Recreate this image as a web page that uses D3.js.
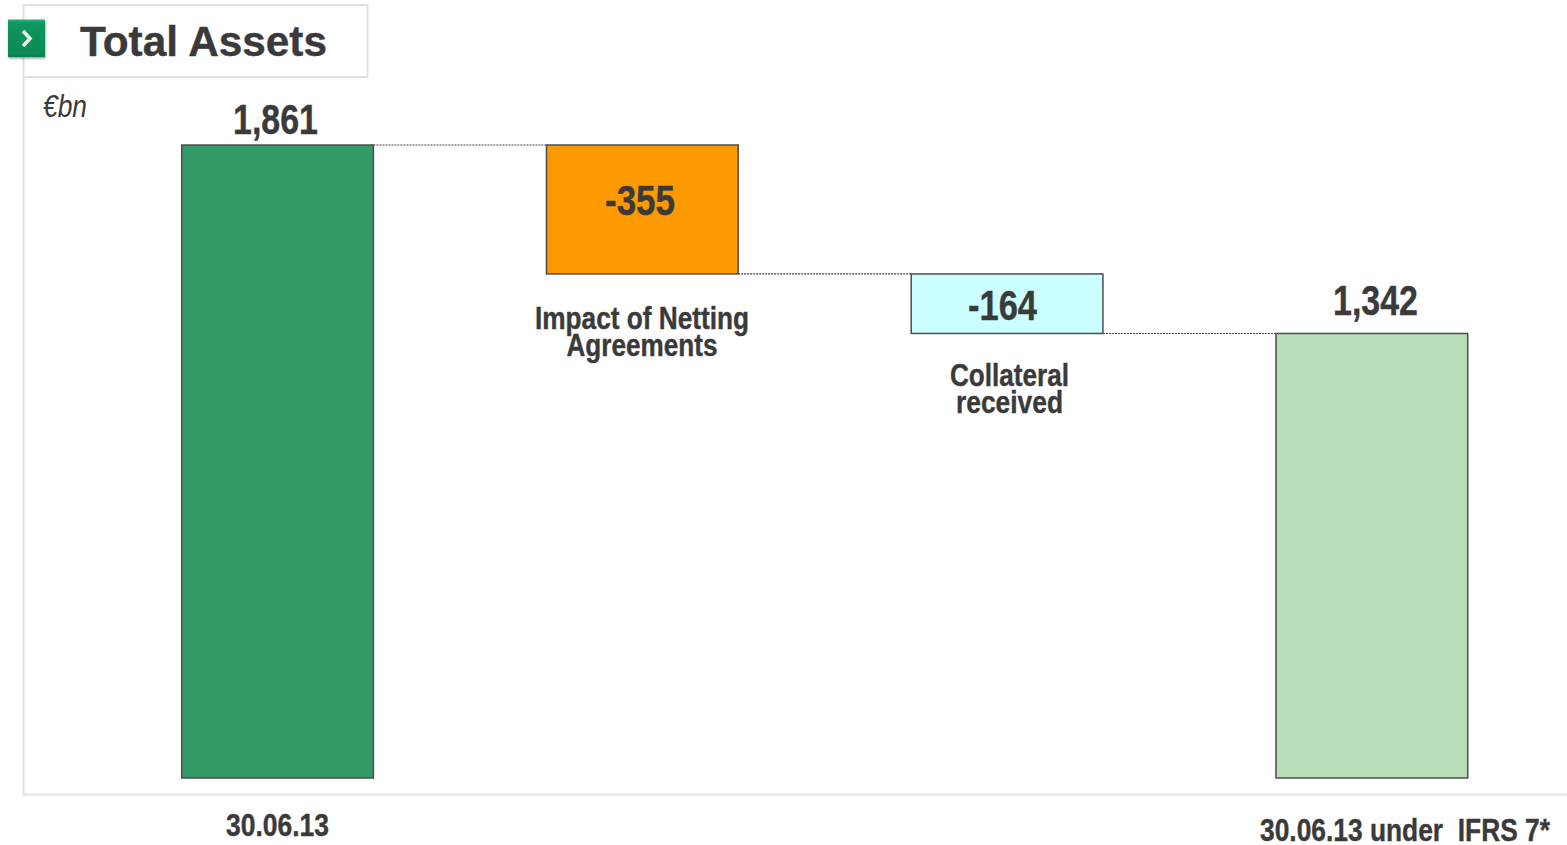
<!DOCTYPE html>
<html><head><meta charset="utf-8">
<script src="https://cdn.jsdelivr.net/npm/d3@7/dist/d3.min.js"></script>
<style>html,body{margin:0;padding:0;background:#fff;overflow:hidden}svg{display:block}
text{font-family:"Liberation Sans",sans-serif;font-weight:700;fill:#3a3a3a;white-space:pre}</style>
</head><body><svg id="c" width="1567" height="845"></svg>
<script>
const categories = ["30.06.13","Impact of Netting Agreements","Collateral received","30.06.13 under  IFRS 7*"];
const values = [1861,-355,-164,1342];
const valueLabels = ["1,861","-355","-164","1,342"];
const kinds = ["total","delta","delta","total"];
const barColors = ["#339966","#ff9900","#ccffff","#b8dfb8"];
const axisBaseValue = 118; // bars are cut off at the baseline in the source
const title = "Total Assets";
const unit = "€bn";

const svg = d3.select("#c");
const x = d3.scaleBand().domain(categories).range([181.7,1467.7]).paddingInner(0.4744).paddingOuter(0);
const y = d3.scaleLinear().domain([axisBaseValue,1861]).range([778,145]);

let run = 0;
const bars = categories.map((c,i)=>{
  let top,bot;
  if(kinds[i]==="total"){top=values[i];bot=axisBaseValue;run=values[i];}
  else{top=run;bot=run+values[i];run=bot;}
  return {c,i,top,bot};
});

// fitted text helper: the source type is horizontally condensed
function label(txt,cx,base,size,width,anchor){
  return svg.append("text").attr("x",cx).attr("y",base).attr("text-anchor",anchor||"middle")
    .attr("textLength",width).attr("lengthAdjust","spacingAndGlyphs")
    .style("font-size",size+"px").style("stroke","#3a3a3a").style("stroke-width",0.4).text(txt);
}

// frame
svg.append("path").attr("d","M23.5 77V794.5H1567").attr("fill","none").attr("stroke","#e2e2e2").attr("stroke-width",2);
svg.append("rect").attr("x",23.5).attr("y",5).attr("width",344).attr("height",72).attr("fill","#fff").attr("stroke","#e0e0e0").attr("stroke-width",2);

// badge
const defs = svg.append("defs");
const g = defs.append("linearGradient").attr("id","bd").attr("x1",0).attr("y1",0).attr("x2",0).attr("y2",1);
g.append("stop").attr("offset",0).attr("stop-color","#2fb080");
g.append("stop").attr("offset",0.1).attr("stop-color","#0a9660");
g.append("stop").attr("offset",0.9).attr("stop-color","#088a55");
g.append("stop").attr("offset",1).attr("stop-color","#0b7d4e");
const f = defs.append("filter").attr("id","sh").attr("x","-20%").attr("y","-20%").attr("width","150%").attr("height","150%");
f.append("feDropShadow").attr("dx",0.5).attr("dy",1.5).attr("stdDeviation",1.2).attr("flood-color","#000").attr("flood-opacity",0.4);
svg.append("rect").attr("x",8).attr("y",19.5).attr("width",37).attr("height",37.5).attr("fill","url(#bd)").attr("filter","url(#sh)");
svg.append("path").attr("d","M23 31L30 38.5L23 46").attr("fill","none").attr("stroke","#e4f6ec").attr("stroke-width",3.6);

label(title,80,56,42,247,"start");
label(unit,43,117,31,44,"start").style("font-weight",400).style("font-style","italic").style("stroke","none");

// connectors
for(let i=0;i<bars.length-1;i++){
  const lvl = kinds[i]==="total"?bars[i].top:bars[i].bot;
  svg.append("line").attr("x1",x(categories[i])+x.bandwidth()).attr("x2",x(categories[i+1]))
    .attr("y1",y(lvl)).attr("y2",y(lvl)).attr("stroke","#444").attr("stroke-width",1.2).attr("stroke-dasharray","2 1");
}

// bars
svg.selectAll("rect.bar").data(bars).join("rect").attr("class","bar")
  .attr("x",d=>x(d.c)).attr("width",x.bandwidth())
  .attr("y",d=>y(d.top)).attr("height",d=>y(d.bot)-y(d.top))
  .attr("fill",d=>barColors[d.i]).attr("stroke","#4d4d4d").attr("stroke-width",1.5);

// value labels
const valCx=[275.5,640,1002.5,1375.5], valBase=[134,215,320,315], valW=[85,70,69,85];
bars.forEach(d=>label(valueLabels[d.i],valCx[d.i],valBase[d.i],42,valW[d.i]));

// category labels
const catLines=[
  ["30.06.13",277.5,836,103],
  ["Impact of Netting",642,329,214],
  ["Agreements",642,356,151],
  ["Collateral",1009.5,386,119],
  ["received",1009.5,413,107],
  ["30.06.13 under  IFRS 7*",1405,841,290]
];
catLines.forEach(l=>label(l[0],l[1],l[2],32,l[3]));
</script></body></html>
